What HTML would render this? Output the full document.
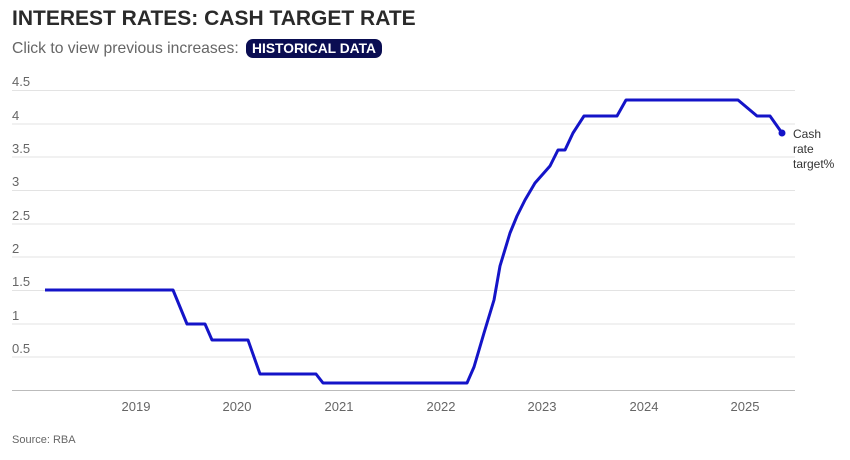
<!DOCTYPE html><html><head><style>
body{margin:0;background:#fff;width:850px;height:460px;overflow:hidden;font-family:"Liberation Sans",sans-serif}
.t{position:absolute;left:12px;top:7px;font-size:21px;font-weight:bold;color:#2a2a2a;letter-spacing:0px}
.s{position:absolute;left:12px;top:39px;font-size:15.7px;color:#666}
.b{display:inline-block;background:#0a0d52;color:#fff;font-weight:bold;font-size:13.8px;border-radius:7px;padding:2px 6px;margin-left:3px}
</style></head><body>
<div class="t">INTEREST RATES: CASH TARGET RATE</div>
<div class="s">Click to view previous increases: <span class="b">HISTORICAL DATA</span></div>
<svg width="850" height="460" style="position:absolute;left:0;top:0" font-family="Liberation Sans, sans-serif">
<g stroke="#e3e3e3" stroke-width="1">
<line x1="12" x2="795" y1="90.5" y2="90.5"/><line x1="12" x2="795" y1="124" y2="124"/><line x1="12" x2="795" y1="157" y2="157"/><line x1="12" x2="795" y1="190.5" y2="190.5"/><line x1="12" x2="795" y1="224" y2="224"/><line x1="12" x2="795" y1="257" y2="257"/><line x1="12" x2="795" y1="290.5" y2="290.5"/><line x1="12" x2="795" y1="324" y2="324"/><line x1="12" x2="795" y1="357" y2="357"/></g>
<line x1="12" x2="795" y1="390.5" y2="390.5" stroke="#bbb"/>
<g font-size="13" fill="#666">
<text x="12" y="86">4.5</text><text x="12" y="120">4</text><text x="12" y="153">3.5</text><text x="12" y="186">3</text><text x="12" y="220">2.5</text><text x="12" y="253">2</text><text x="12" y="286">1.5</text><text x="12" y="320">1</text><text x="12" y="353">0.5</text>
</g>
<g font-size="13" fill="#666" text-anchor="middle">
<text x="136" y="411">2019</text><text x="237" y="411">2020</text><text x="339" y="411">2021</text><text x="441" y="411">2022</text><text x="542" y="411">2023</text><text x="644" y="411">2024</text><text x="745" y="411">2025</text></g>
<polyline fill="none" stroke="#1414c8" stroke-width="3" stroke-linejoin="round" points="45,290 173,290 187,324 205,324 212,340 248,340 254,357 260,374 316,374 323,383 467,383 474,367 484,333 494,300 500,266 510,233 517,216 525,200 535,183 550,166 558,150 565,150 573,133 584,116 617,116 626,100 738,100 757,116 770,116 782,133"/>
<circle cx="782" cy="133" r="3.5" fill="#1414c8"/>
<g font-size="12" fill="#333"><text x="793" y="138">Cash</text><text x="793" y="153">rate</text><text x="793" y="168">target%</text></g>
<text x="12" y="443" font-size="11" fill="#666">Source: RBA</text>
</svg>
</body></html>
